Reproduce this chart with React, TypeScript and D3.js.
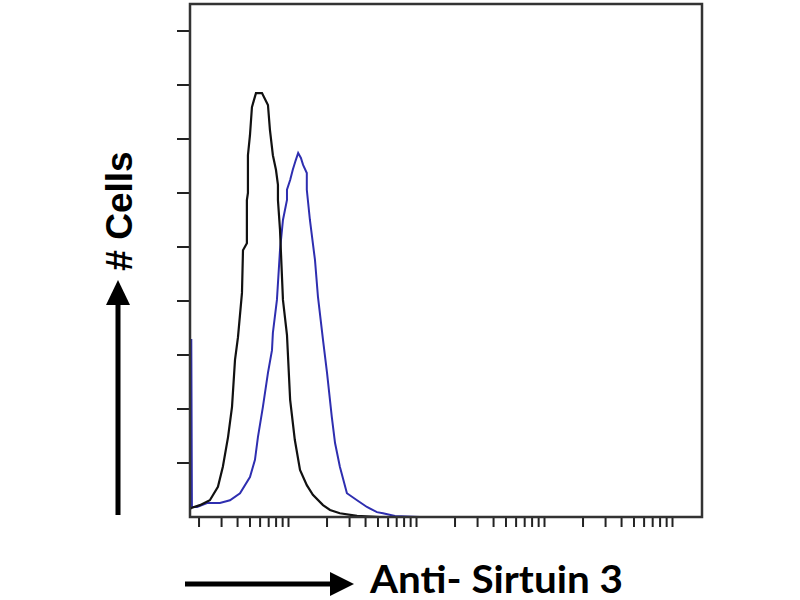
import { useEffect, useRef } from 'react'
import * as d3 from 'd3'

// fluorescence intensity (log axis) and cell counts
const isotypeX = [1.7, 1.76, 2.03, 2.43, 2.81, 3.07, 3.37, 3.62, 3.82, 4.03, 4.33, 4.41, 4.73, 4.73, 4.82, 4.82, 5.0, 5.18, 5.37, 5.57, 6.21, 6.43, 6.91, 7.16, 7.55, 7.98, 8.27, 8.27, 8.58, 9.05, 9.73, 10.3, 11.2, 12.3, 13.9, 15.5, 18.6, 21.1, 25.2, 34.3, 51.8, 106]
const isotypeY = [1.5, 1.7, 2.2, 3.1, 5.6, 9.3, 14.8, 20.4, 29.1, 33.3, 41.5, 49.4, 50.7, 58.7, 60.0, 67.0, 70.7, 75.9, 77.2, 78.5, 78.5, 77.8, 76.3, 71.7, 67.0, 64.3, 61.5, 58.7, 53.2, 40.2, 33.7, 21.7, 14.3, 8.7, 5.9, 4.1, 2.2, 1.3, 0.7, 0.2, 0, 0]

const sirt3X = [1.7, 1.74, 1.76, 1.93, 2.31, 2.91, 3.49, 4.18, 5.0, 5.47, 5.77, 6.31, 6.91, 7.43, 7.55, 8.12, 8.58, 9.05, 9.73, 9.73, 10.3, 10.8, 11.4, 11.9, 12.5, 13.0, 13.9, 13.9, 14.7, 16.1, 17.0, 18.6, 20.0, 21.8, 23.1, 25.2, 28.6, 34.3, 41.0, 49.1, 54.7, 67.9, 106]
const sirt3Y = [32.8, 32.8, 1.85, 1.85, 2.6, 2.6, 3.1, 4.4, 7.4, 10.6, 14.8, 20.4, 26.7, 30.9, 34.1, 40.2, 49.4, 55.0, 58.7, 60.6, 62.4, 64.3, 66.1, 67.4, 66.5, 65.2, 63.7, 60.6, 55.0, 47.6, 40.7, 32.8, 26.7, 18.5, 13.7, 9.3, 4.4, 3.1, 1.85, 0.9, 0.7, 0.2, 0]

const yTicks = [10, 20, 30, 40, 50, 60, 70, 80, 90]
const xLabel = 'Anti- Sirtuin 3'
const yLabel = '# Cells'

export default function App() {
  const ref = useRef<SVGSVGElement>(null)

  useEffect(() => {
    const svg = d3.select(ref.current)
    svg.selectAll('*').remove()

    const left = 190, right = 702, top = 4, bottom = 517
    const x = d3.scaleLog().domain([1.7, 17000]).range([left, right])
    const y = d3.scaleLinear().domain([0, 95]).range([bottom, top])

    svg.append('rect').attr('width', 800).attr('height', 600).attr('fill', '#fff')

    svg.append('defs').append('clipPath').attr('id', 'plot').append('rect')
      .attr('x', left).attr('y', top).attr('width', right - left).attr('height', bottom - top)

    // x ticks: 1..9 x 10^k inside the domain
    const xTicks: number[] = []
    for (let k = 0; k <= 4; k++) {
      for (let m = 1; m <= 9; m++) {
        const v = m * Math.pow(10, k)
        if (v >= 1.7 && v <= 17000) xTicks.push(v)
      }
    }
    svg.append('g').selectAll('line').data(xTicks).enter().append('line')
      .attr('x1', (d) => x(d)).attr('x2', (d) => x(d))
      .attr('y1', bottom).attr('y2', bottom + 10)
      .attr('stroke', '#222').attr('stroke-width', 2)

    svg.append('g').selectAll('line').data(yTicks).enter().append('line')
      .attr('x1', left - 13).attr('x2', left)
      .attr('y1', (d) => y(d)).attr('y2', (d) => y(d))
      .attr('stroke', '#222').attr('stroke-width', 2)

    const line = d3.line<[number, number]>()
      .x((d) => x(d[0]))
      .y((d) => y(d[1]))

    const g = svg.append('g').attr('clip-path', 'url(#plot)')
    g.append('path')
      .datum(d3.zip(sirt3X, sirt3Y) as [number, number][])
      .attr('d', line)
      .attr('fill', 'none')
      .attr('stroke', '#2e2eb0')
      .attr('stroke-width', 2)
    g.append('path')
      .datum(d3.zip(isotypeX, isotypeY) as [number, number][])
      .attr('d', line)
      .attr('fill', 'none')
      .attr('stroke', '#111')
      .attr('stroke-width', 2.2)

    svg.append('rect')
      .attr('x', left).attr('y', top)
      .attr('width', right - left).attr('height', bottom - top)
      .attr('fill', 'none').attr('stroke', '#333').attr('stroke-width', 2.5)

    // axis arrows and labels
    svg.append('line')
      .attr('x1', 118).attr('x2', 118).attr('y1', 515).attr('y2', 300)
      .attr('stroke', '#000').attr('stroke-width', 5)
    svg.append('path')
      .attr('d', 'M106,305 L118,280 L130,305 Z').attr('fill', '#000')
    svg.append('text')
      .attr('transform', 'translate(132,211) rotate(-90)')
      .attr('text-anchor', 'middle')
      .style('font-family', 'Liberation Sans, Arial, sans-serif')
      .style('font-weight', 700)
      .style('font-size', '37px')
      .text(yLabel)

    svg.append('line')
      .attr('x1', 185).attr('x2', 335).attr('y1', 584).attr('y2', 584)
      .attr('stroke', '#000').attr('stroke-width', 5)
    svg.append('path')
      .attr('d', 'M330,572 L354,584 L330,596 Z').attr('fill', '#000')
    svg.append('text')
      .attr('x', 370).attr('y', 593)
      .attr('textLength', 253)
      .attr('lengthAdjust', 'spacingAndGlyphs')
      .style('font-family', 'Lato, Open Sans, sans-serif')
      .style('font-weight', 700)
      .style('font-size', '38px')
      .text(xLabel)
  }, [])

  return (
    <svg ref={ref} width={800} height={600}
      style={{ position: 'absolute', left: 0, top: 0 }} />
  )
}
